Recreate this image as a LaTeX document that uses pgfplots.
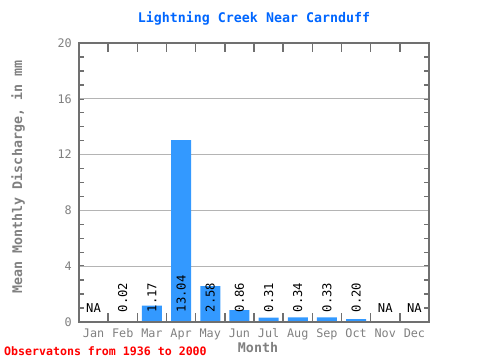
\documentclass[border=0pt]{standalone}
\usepackage{fontspec}
\setmainfont{DejaVu Sans Mono}
\usepackage{pgfplots}
\pgfplotsset{compat=1.18}
\definecolor{barblue}{HTML}{3399FF}
\definecolor{titleblue}{HTML}{0066FF}
\definecolor{axgray}{HTML}{707070}
\definecolor{txtgray}{HTML}{808080}
\definecolor{gridgray}{HTML}{B4B4B4}
\pgfplotstableread{
x y
2 0.02
3 1.17
4 13.04
5 2.58
6 0.86
7 0.31
8 0.34
9 0.33
10 0.20
}\bars
\pgfplotstableread{
x y label
2 0.7 0.02
3 0.7 1.17
4 0.7 13.04
5 0.7 2.58
6 0.7 0.86
7 0.7 0.31
8 0.7 0.34
9 0.7 0.33
10 0.7 0.20
}\vals
\pgfplotstableread{
x y label
1 1.0 NA
11 1.0 NA
12 1.0 NA
}\nas
\pgfplotsset{
  common/.style={
    at={(79bp,38bp)}, anchor=south west,
    width=350bp, height=279bp, scale only axis,
    xmin=0.5, xmax=12.5, ymin=0, ymax=20,
    tick align=inside,
    every tick/.style={axgray, line width=1.5bp},
    axis line style={axgray, line width=1.5bp},
    /pgf/number format/assume math mode=true,
    ticklabel style={font=\fontsize{11.8bp}{13bp}\selectfont, text=txtgray},
  }
}
\begin{document}
\begin{tikzpicture}[x=1bp,y=1bp]
\path[use as bounding box] (0,0) rectangle (480,360);
\begin{axis}[
  common,
  xtick=\empty,
  ytick={0,1,...,20},
  yticklabels={0,,,,4,,,,8,,,,12,,,,16,,,,20},
  extra y ticks={4,8,12,16},
  extra y tick labels={},
  extra tick style={grid=major, tick style={draw=none}},
  grid style={gridgray, line width=0.8bp},
  major tick length=5bp,
  yticklabel style={inner sep=0pt, xshift=-7bp},
  clip=false,
]
\addplot[ybar, bar width=20bp, fill=barblue, draw=none] table[x=x,y=y] {\bars};
\addplot[draw=none, mark=none, nodes near coords, point meta=explicit symbolic,
  nodes near coords style={rotate=90, anchor=west, inner sep=0pt, text=black,
  font=\fontsize{12.2bp}{13bp}\selectfont}] table[x=x,y=y,meta=label] {\vals};
\addplot[draw=none, mark=none, nodes near coords, point meta=explicit symbolic,
  nodes near coords style={anchor=center, inner sep=0pt, text=black,
  font=\fontsize{12.2bp}{13bp}\selectfont}] table[x=x,y=y,meta=label] {\nas};
\end{axis}
\begin{axis}[
  common,
  ytick=\empty,
  xtick={1,2,...,12},
  xticklabels={Jan,Feb,Mar,Apr,May,Jun,Jul,Aug,Sep,Oct,Nov,Dec},
  xtick style={draw=none},
  major tick length=0bp,
  xticklabel style={inner sep=0pt, anchor=base, yshift=-15bp},
]
\end{axis}
\begin{axis}[
  common,
  ytick=\empty,
  xtick={1.5,2.5,...,11.5},
  xticklabels={},
  xtick pos=top,
  major tick length=9bp,
]
\end{axis}
\begin{axis}[
  at={(79bp,38bp)}, anchor=north west,
  width=350bp, height=10bp, scale only axis,
  xmin=0.5, xmax=12.5, ymin=0, ymax=1,
  ytick=\empty,
  xtick={1.5,2.5,...,11.5},
  xticklabels={},
  xtick pos=top,
  tick align=outside,
  major tick length=9bp,
  every tick/.style={axgray, line width=1.5bp},
  axis line style={draw=none},
]
\end{axis}
\node[text=titleblue, font=\bfseries\fontsize{13.3bp}{15bp}\selectfont] at (254,342) {Lightning Creek Near Carnduff};
\node[rotate=90, text=txtgray, font=\bfseries\fontsize{13.3bp}{15bp}\selectfont] at (18,183) {Mean Monthly Discharge, in mm};
\node[text=txtgray, font=\bfseries\fontsize{13.3bp}{15bp}\selectfont] at (258,12) {Month};
\node[anchor=west, inner sep=0pt, text=red, font=\bfseries\fontsize{11.6bp}{13bp}\selectfont] at (4,9) {Observatons from 1936 to 2000};
\end{tikzpicture}
\end{document}
